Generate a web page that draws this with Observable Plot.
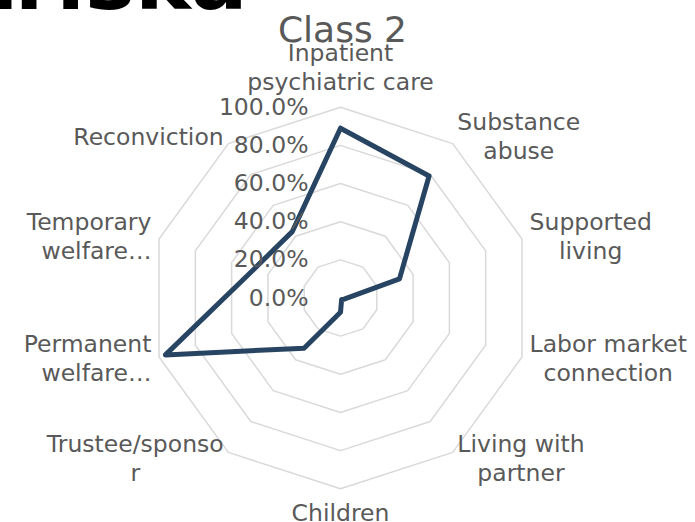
<!DOCTYPE html>
<html>
<head>
<meta charset="utf-8">
<script src="https://cdn.jsdelivr.net/npm/d3@7"></script>
<script src="https://cdn.jsdelivr.net/npm/@observablehq/plot@0.6"></script>
<style>
  html, body { margin: 0; padding: 0; background: #fff; }
  #chart svg { display: block; }
</style>
</head>
<body>
<div id="chart"></div>
<script>
// ---- data ----
const title = "Class 2";
const bannerText = "Psykiatriska";
const categories = [
  "Inpatient\npsychiatric care",
  "Substance\nabuse",
  "Supported\nliving",
  "Labor market\nconnection",
  "Living with\npartner",
  "Children",
  "Trustee/sponso\nr",
  "Permanent\nwelfare…",
  "Temporary\nwelfare…",
  "Reconviction"
];
const values = [0.89, 0.79, 0.325, 0.02, 0.01, 0.075, 0.325, 0.965, 0.48, 0.43];
const gridLevels = [0.2, 0.4, 0.6, 0.8, 1.0];
const tickValues = [0, 0.2, 0.4, 0.6, 0.8, 1.0];
const tickLabels = ["0.0%", "20.0%", "40.0%", "60.0%", "80.0%", "100.0%"];

// ---- layout ----
const W = 695, H = 522, cx = 340, cy = 297.5, R = 190.8;
const FONT = "'DejaVu Sans', Verdana, sans-serif";
const LABEL_SIZE = 23.5, LINE_PX = 29;
const TEXT = "#595959";
const n = categories.length;
const ang = i => 2 * Math.PI * i / n;
const pt = (i, r) => ({x: r * Math.sin(ang(i)), y: r * Math.cos(ang(i))});

const ctx = document.createElement("canvas").getContext("2d");
ctx.font = `${LABEL_SIZE}px 'DejaVu Sans'`;
const measure = s => ctx.measureText(s).width;

// grid rings
const gridData = gridLevels.flatMap(level =>
  d3.range(n + 1).map(i => ({level, ...pt(i % n, level)})));

// series polygon
const seriesData = d3.range(n + 1).map(i => pt(i % n, values[i % n]));

// category labels (one row per line)
const labelRows = [];
categories.forEach((cat, i) => {
  const lines = cat.split("\n");
  const s = Math.sin(ang(i)), c = Math.cos(ang(i));
  const vertical = Math.abs(s) < 0.2;
  const gap = (vertical ? 10 : 8) / R;
  const ax = s * (1 + gap), ay = c * (1 + gap);
  const wMax = d3.max(lines, measure) / R;
  const hBox = lines.length * LINE_PX / R;
  const bx = s > 0.2 ? ax + wMax / 2 : s < -0.2 ? ax - wMax / 2 : ax;
  const by = c > 0.9 ? ay + hBox / 2 : c < -0.9 ? ay - hBox / 2 : ay;
  const rightAligned = s < -0.9;
  lines.forEach((line, j) => {
    labelRows.push({
      text: line,
      align: rightAligned ? "end" : "middle",
      x: rightAligned ? ax : bx,
      y: by - (j - (lines.length - 1) / 2) * LINE_PX / R
    });
  });
});

const tickRows = tickValues.map((v, k) => ({text: tickLabels[k], x: -32 / R, y: v}));

const chart = Plot.plot({
  width: W,
  height: H,
  margin: 0,
  x: {domain: [-cx / R, (W - cx) / R], axis: null},
  y: {domain: [-(H - cy) / R, cy / R], axis: null},
  style: {fontFamily: FONT, background: "#fff", overflow: "visible"},
  marks: [
    Plot.line(gridData, {x: "x", y: "y", z: "level", stroke: "#d9d9d9", strokeWidth: 1.5}),
    Plot.line(seriesData, {x: "x", y: "y", stroke: "#284463", strokeWidth: 5, strokeLinejoin: "round"}),
    Plot.text(tickRows, {x: "x", y: "y", text: "text", textAnchor: "end", lineAnchor: "middle",
      fontSize: LABEL_SIZE, fill: TEXT}),
    Plot.text(labelRows.filter(d => d.align === "middle"), {x: "x", y: "y", text: "text",
      textAnchor: "middle", lineAnchor: "middle", fontSize: LABEL_SIZE, fill: TEXT}),
    Plot.text(labelRows.filter(d => d.align === "end"), {x: "x", y: "y", text: "text",
      textAnchor: "end", lineAnchor: "middle", fontSize: LABEL_SIZE, fill: TEXT}),
    Plot.text([title], {x: 2 / R, y: (cy - 29.5) / R, text: d => d, textAnchor: "middle",
      lineAnchor: "middle", fontSize: 36, fill: TEXT}),
    Plot.text([bannerText], {x: (247 - cx) / R, y: (cy - (8 - 0.32 * 84)) / R, text: d => d,
      textAnchor: "end", lineAnchor: "middle", fontSize: 84, fontWeight: "bold", fill: "#000"})
  ]
});
document.getElementById("chart").appendChild(chart);
</script>
</body>
</html>
